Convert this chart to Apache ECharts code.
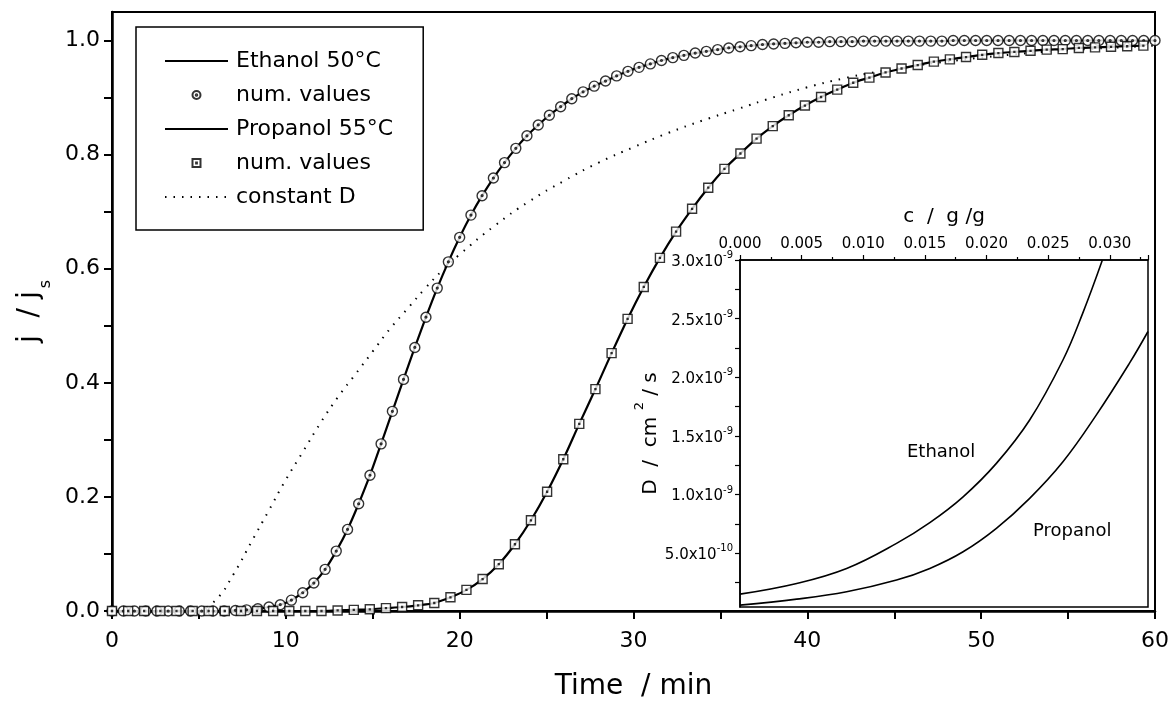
<!DOCTYPE html>
<html>
<head>
<meta charset="utf-8">
<script src="https://cdn.jsdelivr.net/npm/echarts@6/dist/echarts.min.js"></script>
<style>
  html, body { margin: 0; padding: 0; background: #fff; }
  #chart { width: 1172px; height: 706px; }
</style>
</head>
<body>
<div id="chart"></div>
<script>
// main plot: j/js vs time
var ethTime = [0,0.65,1.29,1.94,2.58,3.23,3.87,4.52,5.16,5.81,
  6.45,7.10,7.74,8.39,9.03,9.68,10.32,10.97,11.61,12.26,
  12.90,13.55,14.19,14.84,15.48,16.13,16.77,17.42,18.06,18.71,
  19.35,20.00,20.65,21.29,21.94,22.58,23.23,23.87,24.52,25.16,
  25.81,26.45,27.10,27.74,28.39,29.03,29.68,30.32,30.97,31.61,
  32.26,32.90,33.55,34.19,34.84,35.48,36.13,36.77,37.42,38.06,
  38.71,39.35,40.00,40.65,41.29,41.94,42.58,43.23,43.87,44.52,
  45.16,45.81,46.45,47.10,47.74,48.39,49.03,49.68,50.32,50.97,
  51.61,52.26,52.90,53.55,54.19,54.84,55.48,56.13,56.77,57.42,
  58.06,58.71,59.35,60.00];
var ethJ = [0,0,0,0,0,0,0,0,0,0,
  0,0.001,0.002,0.004,0.007,0.011,0.019,0.032,0.049,0.073,
  0.105,0.143,0.188,0.238,0.293,0.350,0.406,0.462,0.515,0.566,
  0.612,0.655,0.694,0.728,0.759,0.786,0.811,0.833,0.852,0.869,
  0.884,0.898,0.910,0.920,0.929,0.938,0.946,0.953,0.959,0.965,
  0.970,0.974,0.978,0.981,0.984,0.987,0.989,0.991,0.993,0.994,
  0.995,0.996,0.997,0.997,0.998,0.998,0.998,0.999,0.999,0.999,
  0.999,0.999,0.999,0.999,0.999,1,1,1,1,1,
  1,1,1,1,1,1,1,1,1,1,
  1,1,1,1];

var proTime = [0,0.93,1.85,2.78,3.71,4.64,5.56,6.49,7.42,8.34,
  9.27,10.20,11.12,12.05,12.98,13.91,14.83,15.76,16.69,17.61,
  18.54,19.47,20.39,21.32,22.25,23.18,24.10,25.03,25.96,26.88,
  27.81,28.74,29.66,30.59,31.52,32.45,33.37,34.30,35.23,36.15,
  37.08,38.01,38.93,39.86,40.79,41.72,42.64,43.57,44.50,45.42,
  46.35,47.28,48.20,49.13,50.06,50.99,51.91,52.84,53.77,54.69,
  55.62,56.55,57.47,58.40,59.33];
var proJ = [0,0,0,0,0,0,0,0,0,0,
  0,0,0,0,0.001,0.002,0.003,0.005,0.007,0.010,
  0.014,0.024,0.037,0.056,0.082,0.117,0.159,0.209,0.266,0.328,
  0.389,0.452,0.512,0.568,0.619,0.665,0.705,0.742,0.775,0.802,
  0.828,0.850,0.869,0.886,0.901,0.914,0.926,0.935,0.944,0.951,
  0.957,0.963,0.967,0.971,0.975,0.978,0.980,0.982,0.984,0.985,
  0.987,0.988,0.989,0.990,0.991];

var constTime = [5,6,7,8,9,10,11,12,13,14,15,16,17,18,19,20,22,24,26,28,30,32,34,36,38,40,42,44,46,48,50,52,54,56,58,60];
var constJ = [0,0.02,0.065,0.12,0.175,0.23,0.28,0.33,0.375,0.415,0.455,0.495,0.53,0.565,0.597,0.625,
  0.675,0.718,0.754,0.786,0.813,0.838,0.86,0.88,0.9,0.918,0.933,0.945,0.955,0.963,0.97,0.976,0.981,0.985,0.988,0.991];

var xTicks = [0,5,10,15,20,25,30,35,40,45,50,55,60];
var xLabels = [0,10,20,30,40,50,60];
var yTicks = [0,0.1,0.2,0.3,0.4,0.5,0.6,0.7,0.8,0.9,1.0];
var yLabels = [0,0.2,0.4,0.6,0.8,1.0];

// inset: D vs c
var ethC = [0,0.0046,0.00865,0.0127,0.0154,0.0181,0.0208,0.0235,0.0262,0.0278,0.0294];
var ethD = [1.50e-10,2.41e-10,3.69e-10,5.83e-10,7.6e-10,9.8e-10,1.265e-9,1.635e-9,2.147e-9,2.545e-9,3.0e-9];
var proC = [0,0.0046,0.00865,0.0127,0.0154,0.0181,0.0208,0.0235,0.0262,0.0289,0.0316,0.0331];
var proD = [5.6e-11,1.07e-10,1.70e-10,2.70e-10,3.69e-10,5.11e-10,7.11e-10,9.67e-10,1.279e-9,1.677e-9,2.12e-9,2.39e-9];

var cTicks = [0,0.005,0.010,0.015,0.020,0.025,0.030,0.0331];
var cMinorTicks = [0.0025,0.0075,0.0125,0.0175,0.0225,0.0275,0.0325];
var cLabels = [0,0.005,0.010,0.015,0.020,0.025,0.030];
var dTicks = [2.5e-10,5e-10,7.5e-10,1e-9,1.25e-9,1.5e-9,1.75e-9,2e-9,2.25e-9,2.5e-9,2.75e-9,3e-9];
var dLabels = [5e-10,1e-9,1.5e-9,2e-9,2.5e-9,3e-9];

var FONT = 'DejaVu Sans';
var circleSym = 'path://M10,0A10,10,0,1,1,9.99,0Z M10,8.2A1.8,1.8,0,1,1,9.99,8.2Z';
var squareSym = 'path://M0,0H20V20H0Z M9,9H11V11H9Z';

function zip(a, b) {
    return a.map(function(v, i) { return [v, b[i]]; });
}

function sciLabel(v) {
    var e = Math.floor(Math.log10(v) + 1e-9);
    var m = v / Math.pow(10, e);
    return '{m|' + m.toFixed(1) + 'x10}{e|' + e + '}';
}

var myChart = echarts.init(document.getElementById('chart'));
var option = {
    backgroundColor: '#fff',
    animation: false,
    grid: [
        {left: 112, right: 12, top: 12, bottom: 92, show: true, borderColor: '#000', borderWidth: 2},
        {left: 740, right: 24, top: 260, bottom: 99, show: true, backgroundColor: '#fff', borderColor: '#000', borderWidth: 1.5}
    ],
    legend: {
        left: 136,
        top: 27,
        orient: 'vertical',
        //线条图例不要中间的点
        data: [
            {name: 'Ethanol 50°C', itemStyle: {opacity: 0}},
            'num. values',
            {name: 'Propanol 55°C', itemStyle: {opacity: 0}},
            'num. values ',
            {name: 'constant D', itemStyle: {opacity: 0}}
        ],
        itemWidth: 63,
        itemHeight: 8,
        itemGap: 12,
        padding: [23, 30, 22, 28],
        borderColor: '#000',
        borderWidth: 1.5,
        borderRadius: 0,
        backgroundColor: '#fff',
        selectedMode: false,
        textStyle: {fontSize: 22, fontFamily: FONT, color: '#000', padding: [0, 0, 0, 3]}
    },
    xAxis: [
        {
            gridIndex: 0, type: 'value', min: 0, max: 60,
            name: 'Time  / min', nameLocation: 'middle', nameGap: 62,
            nameTextStyle: {fontSize: 28, fontFamily: FONT, color: '#000'},
            axisLine: {lineStyle: {color: '#000', width: 2.5}},
            axisTick: {length: 8, lineStyle: {color: '#000', width: 2}, customValues: xTicks},
            axisLabel: {fontSize: 22, fontFamily: FONT, color: '#000', margin: 19, customValues: xLabels},
            splitLine: {show: false}
        },
        {
            gridIndex: 1, type: 'value', position: 'top', min: 0, max: 0.0331,
            name: 'c  /  g /g', nameLocation: 'middle', nameGap: 33,
            nameTextStyle: {fontSize: 20, fontFamily: FONT, color: '#000'},
            axisLine: {lineStyle: {color: '#000', width: 1.5}},
            axisTick: {length: 5, lineStyle: {color: '#000', width: 1.2}, customValues: cTicks},
            axisLabel: {fontSize: 15, fontFamily: FONT, color: '#000', margin: 8, customValues: cLabels,
                formatter: function(v) { return v.toFixed(3); }},
            splitLine: {show: false}
        },
        {
            gridIndex: 1, type: 'value', position: 'top', min: 0, max: 0.0331,
            axisLine: {show: false},
            axisTick: {length: 3, lineStyle: {color: '#000', width: 1.2}, customValues: cMinorTicks},
            axisLabel: {show: false},
            splitLine: {show: false}
        }
    ],
    yAxis: [
        {
            gridIndex: 0, type: 'value', min: 0, max: 1.05,
            name: '{a|j  / j}{b|s}', nameLocation: 'middle', nameGap: 56,
            nameTextStyle: {
                rich: {
                    a: {fontSize: 28, fontFamily: FONT, color: '#000', padding: [0, 0, 10, 0]},
                    b: {fontSize: 16, fontFamily: FONT, color: '#000', verticalAlign: 'bottom', padding: [0, 0, 0, 3]}
                }
            },
            axisLine: {lineStyle: {color: '#000', width: 2.5}},
            axisTick: {length: 8, lineStyle: {color: '#000', width: 2}, customValues: yTicks},
            axisLabel: {fontSize: 22, fontFamily: FONT, color: '#000', margin: 12, customValues: yLabels,
                formatter: function(v) { return v.toFixed(1); }},
            splitLine: {show: false}
        },
        {
            gridIndex: 1, type: 'value', min: 4e-11, max: 3e-9,
            name: '{a|D  /  cm }{s|2}{a| / s}', nameLocation: 'middle', nameGap: 76,
            nameTextStyle: {
                rich: {
                    a: {fontSize: 20, fontFamily: FONT, color: '#000', padding: [8, 0, 0, 0]},
                    s: {fontSize: 13, fontFamily: FONT, color: '#000', verticalAlign: 'top'}
                }
            },
            axisLine: {lineStyle: {color: '#000', width: 1.5}},
            axisTick: {length: 5, lineStyle: {color: '#000', width: 1.2}, customValues: dTicks},
            axisLabel: {margin: 7, customValues: dLabels, formatter: sciLabel,
                rich: {
                    m: {fontSize: 15, fontFamily: FONT, color: '#000', padding: [4, 0, 0, 0]},
                    e: {fontSize: 10, fontFamily: FONT, color: '#000', verticalAlign: 'top'}
                }},
            splitLine: {show: false}
        }
    ],
    graphic: [
        {type: 'text', left: 907, top: 443, style: {text: 'Ethanol', fontSize: 18, fontFamily: FONT, fill: '#000'}, z: 10},
        {type: 'text', left: 1033, top: 522, style: {text: 'Propanol', fontSize: 18, fontFamily: FONT, fill: '#000'}, z: 10}
    ],
    series: [
        {
            name: 'constant D', type: 'line', xAxisIndex: 0, yAxisIndex: 0,
            data: zip(constTime, constJ), smooth: true, symbol: 'none',
            itemStyle: {color: '#000'},
            lineStyle: {color: '#000', width: 2, type: [1.5, 7]}, z: 2
        },
        {
            name: 'Ethanol 50°C', type: 'line', xAxisIndex: 0, yAxisIndex: 0,
            data: zip(ethTime, ethJ), smooth: 0.3, symbol: 'none',
            itemStyle: {color: '#000'},
            lineStyle: {color: '#000', width: 2.2}, z: 3
        },
        {
            name: 'num. values', type: 'scatter', xAxisIndex: 0, yAxisIndex: 0,
            data: zip(ethTime, ethJ), symbol: circleSym, symbolSize: 10, legendIcon: circleSym,
            itemStyle: {color: '#fff', borderColor: '#000', borderWidth: 1.4}, z: 4
        },
        {
            name: 'Propanol 55°C', type: 'line', xAxisIndex: 0, yAxisIndex: 0,
            data: zip(proTime, proJ), smooth: 0.3, symbol: 'none',
            itemStyle: {color: '#000'},
            lineStyle: {color: '#000', width: 2.2}, z: 3
        },
        {
            name: 'num. values ', type: 'scatter', xAxisIndex: 0, yAxisIndex: 0,
            data: zip(proTime, proJ), symbol: squareSym, symbolSize: 9, legendIcon: squareSym,
            itemStyle: {color: '#fff', borderColor: '#000', borderWidth: 1.4}, z: 4
        },
        {
            name: 'Ethanol', type: 'line', xAxisIndex: 1, yAxisIndex: 1,
            data: zip(ethC, ethD), smooth: 0.4, symbol: 'none',
            lineStyle: {color: '#000', width: 1.6}, z: 5
        },
        {
            name: 'Propanol', type: 'line', xAxisIndex: 1, yAxisIndex: 1,
            data: zip(proC, proD), smooth: 0.4, symbol: 'none',
            lineStyle: {color: '#000', width: 1.6}, z: 5
        }
    ]
};
myChart.setOption(option);
</script>
</body>
</html>
